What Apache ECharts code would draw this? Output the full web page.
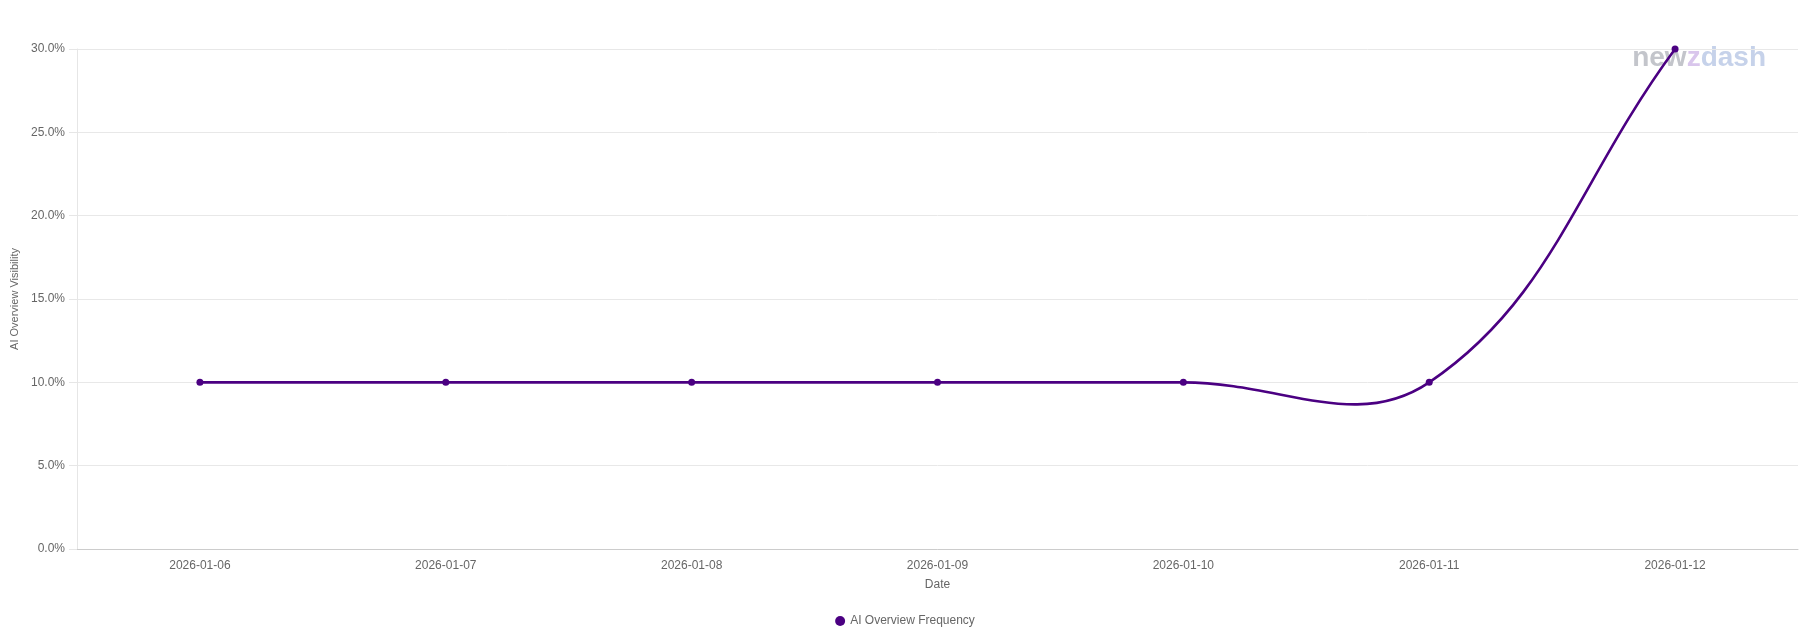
<!DOCTYPE html>
<html><head><meta charset="utf-8">
<script src="https://cdn.jsdelivr.net/npm/echarts@6/dist/echarts.min.js"></script>
<style>html,body{margin:0;padding:0;background:#fff}#c{width:1810px;height:637px}</style>
</head><body><div id="c"></div>
<script>
const categories = ['2026-01-06','2026-01-07','2026-01-08','2026-01-09','2026-01-10','2026-01-11','2026-01-12'];
const frequency = [10, 10, 10, 10, 10, 10, 30];
const seriesName = 'AI Overview Frequency';
const tension = 0.4;

const chart = echarts.init(document.getElementById('c'));
const font = 'Liberation Sans, Arial, sans-serif';
const lineColor = '#4B0082';

function controlPoints(prev, cur, next) {
  const d01 = Math.hypot(cur[0] - prev[0], cur[1] - prev[1]);
  const d12 = Math.hypot(next[0] - cur[0], next[1] - cur[1]);
  let s01 = d01 / (d01 + d12), s12 = d12 / (d01 + d12);
  if (isNaN(s01)) s01 = 0;
  if (isNaN(s12)) s12 = 0;
  const fa = tension * s01, fb = tension * s12;
  return {
    p: [cur[0] - fa * (next[0] - prev[0]), cur[1] - fa * (next[1] - prev[1])],
    n: [cur[0] + fb * (next[0] - prev[0]), cur[1] + fb * (next[1] - prev[1])]
  };
}

function renderCurve(params, api) {
  if (params.dataIndex !== 0) return { type: 'group', children: [] };
  const pts = frequency.map((v, i) => api.coord([i, v]));
  const cps = pts.map((pt, i) => controlPoints(pts[Math.max(0, i - 1)], pt, pts[Math.min(pts.length - 1, i + 1)]));
  const children = [];
  for (let i = 0; i < pts.length - 1; i++) {
    children.push({
      type: 'bezierCurve',
      shape: {
        x1: pts[i][0], y1: pts[i][1], x2: pts[i + 1][0], y2: pts[i + 1][1],
        cpx1: cps[i].n[0], cpy1: cps[i].n[1], cpx2: cps[i + 1].p[0], cpy2: cps[i + 1].p[1]
      },
      style: { stroke: lineColor, lineWidth: 2.6, fill: null }
    });
  }
  return { type: 'group', children };
}

chart.setOption({
  animation: false,
  textStyle: { fontFamily: font },
  grid: { left: 77, right: 12, top: 49, bottom: 88, containLabel: false },
  legend: {
    bottom: 5, left: 'center', icon: 'circle', itemWidth: 10, itemHeight: 10,
    textStyle: { color: '#666', fontSize: 12, fontFamily: font },
    data: [seriesName]
  },
  xAxis: {
    type: 'category', data: categories, boundaryGap: true,
    name: 'Date', nameLocation: 'middle', nameGap: 30,
    nameTextStyle: { color: '#666', fontSize: 12, fontFamily: font },
    axisLine: { lineStyle: { color: '#ccc' } },
    axisTick: { show: false },
    axisLabel: { color: '#666', fontSize: 12, margin: 11, fontFamily: font }
  },
  yAxis: {
    type: 'value', min: 0, max: 30, interval: 5,
    name: 'AI Overview Visibility', nameLocation: 'middle', nameGap: 52, nameRotate: 90,
    nameTextStyle: { color: '#666', fontSize: 11, fontFamily: font },
    axisLine: { show: true, lineStyle: { color: '#e6e6e6' } },
    axisTick: { show: true, length: 8, lineStyle: { color: '#e6e6e6' } },
    splitLine: { lineStyle: { color: '#e8e8e8' } },
    axisLabel: { color: '#666', fontSize: 12, margin: 12, fontFamily: font,
      formatter: v => v.toFixed(1) + '%' }
  },
  graphic: [{
    type: 'text', right: 44, top: 44, z: 0,
    style: {
      text: '{a|new}{b|z}{c|dash}',
      rich: {
        a: { fill: '#c3c5cb', fontSize: 28, fontWeight: 'bold', fontFamily: font },
        b: { fill: '#d9c6ec', fontSize: 28, fontWeight: 'bold', fontFamily: font },
        c: { fill: '#c6d2ea', fontSize: 28, fontWeight: 'bold', fontFamily: font }
      }
    }
  }],
  series: [{
    name: 'curve', type: 'custom', z: 2, silent: true,
    data: frequency.map((v, i) => [i, v]),
    encode: { x: 0, y: 1 },
    renderItem: renderCurve
  }, {
    name: seriesName, type: 'line', data: frequency, smooth: false,
    symbol: 'circle', symbolSize: 7, z: 3,
    lineStyle: { color: lineColor, width: 0, opacity: 0 },
    itemStyle: { color: lineColor }
  }]
});
</script></body></html>
